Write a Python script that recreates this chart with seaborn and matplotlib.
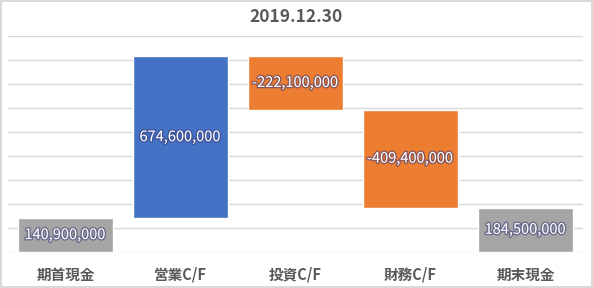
import matplotlib
matplotlib.use("Agg")
import matplotlib.pyplot as plt
import matplotlib.patheffects as pe
import seaborn as sns
import pandas as pd

categories = ['期首現金', '営業C/F', '投資C/F', '財務C/F', '期末現金']
values = [140900000, 674600000, -222100000, -409400000, 184500000]
is_total = [True, False, False, False, True]
title = '2019.12.30'

sns.set_style("white")
plt.rcParams['font.family'] = ['Noto Sans CJK JP', 'DejaVu Sans']

GRAY, BLUE, ORANGE = '#A5A5A5', '#4472C4', '#ED7D31'

fig = plt.figure(figsize=(5.93, 2.88), dpi=100)
fig.patch.set_facecolor('white')
fig.patch.set_edgecolor('#D9D9D9')
fig.patch.set_linewidth(1.5)
ax = fig.add_axes([8/593, 36/288, 575/593, 216/288])

running = 0
for cat, v, tot in zip(categories, values, is_total):
    if tot:
        bottom, height, color = 0, v, GRAY
        running = v
    else:
        if v >= 0:
            bottom, height, color = running, v, BLUE
        else:
            bottom, height, color = running + v, -v, ORANGE
        running += v
    df = pd.DataFrame({'cat': [cat], 'h': [height]})
    sns.barplot(data=df, x='cat', y='h', order=categories, color=color,
                saturation=1, width=0.82, bottom=bottom, ax=ax, zorder=2)
    ax.text(categories.index(cat), bottom + height / 2, f"{v:,}",
            ha='center', va='center', color='white', fontsize=10.5, zorder=5,
            path_effects=[pe.withStroke(linewidth=2, foreground='#3c3c78', alpha=0.55)])

ax.set_ylim(0, 900000000)
ax.set_xlim(-0.5, 4.5)
ax.set_yticks([i * 100000000 for i in range(10)])
ax.yaxis.grid(True, color='#D9D9D9', linewidth=1, zorder=0)
ax.set_axisbelow(True)
ax.tick_params(axis='y', left=False, labelleft=False)
ax.tick_params(axis='x', bottom=False, pad=7)
for lbl in ax.get_xticklabels():
    lbl.set_fontweight('bold')
    lbl.set_fontsize(10.5)
    lbl.set_color('#595959')
for s in ['top', 'right', 'left', 'bottom']:
    ax.spines[s].set_visible(False)
ax.set_xlabel('')
ax.set_ylabel('')

fig.text(0.5, 1 - 17/288, title, ha='center', va='center', fontsize=12.5,
         fontweight='bold', color='#595959')

fig.savefig('out.png', dpi=100, facecolor=fig.get_facecolor(), edgecolor=fig.get_edgecolor())
